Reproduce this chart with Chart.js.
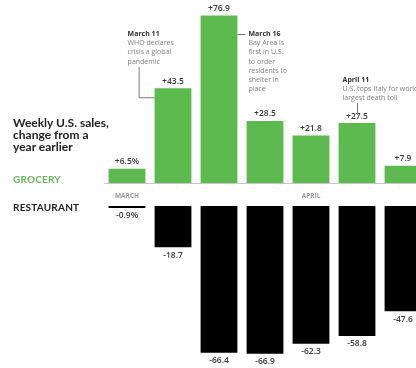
<!DOCTYPE html>
<html>
<head>
<meta charset="utf-8">
<script src="https://cdn.jsdelivr.net/npm/chart.js@4/dist/chart.umd.min.js"></script>
<style>
  html, body { margin: 0; padding: 0; background: #fff; overflow: hidden; }
  #wrap { position: relative; width: 416px; height: 368px; overflow: hidden; }
  canvas { position: absolute; left: 0; }
  #top { top: 0; }
  #bottom { top: 204px; }
  .txt { position: absolute; left: 13px; font-family: Lato, "Open Sans", sans-serif; font-weight: 700; }
  #title { top: 117px; font-size: 12px; line-height: 12px; color: #222; }
  #groc { top: 173px; font-size: 10px; color: #67b65a; letter-spacing: 0.2px; }
  #rest { top: 201px; font-size: 10px; color: #222; letter-spacing: 0.2px; }
</style>
</head>
<body>
<div id="wrap">
  <canvas id="top" width="430" height="202"></canvas>
  <canvas id="bottom" width="430" height="164"></canvas>
  <div class="txt" id="title">Weekly U.S. sales,<br>change from a<br>year earlier</div>
  <div class="txt" id="groc">GROCERY</div>
  <div class="txt" id="rest">RESTAURANT</div>
</div>
<script>
// Weekly change from a year earlier, %
const weeks = ['Mar 7', 'Mar 14', 'Mar 21', 'Mar 28', 'Apr 4', 'Apr 11', 'Apr 18'];
const monthTicks = ['MARCH', '', '', '', 'APRIL', '', ''];
const grocery = [6.5, 43.5, 76.9, 28.5, 21.8, 27.5, 7.9];
const restaurant = [-0.9, -18.7, -66.4, -66.9, -62.3, -58.8, -47.6];

const notes = [
    { bar: 1, title: 'March 11', lines: ['WHO declares', 'crisis a global', 'pandemic'] },
    { bar: 2, title: 'March 16', lines: ['Bay Area is', 'first in U.S.', 'to order', 'residents to', 'shelter in', 'place'] },
    { bar: 5, title: 'April 11', lines: ["U.S. tops Italy for world's", 'largest death toll'] }
];

const FONT = '"Open Sans", sans-serif';

function fmt(v, i) {
    const s = (v > 0 ? '+' : '') + v.toFixed(1);
    return i === 0 ? s + '%' : s;
}

// value labels above / below each bar
const valueLabels = {
    id: 'valueLabels',
    afterDatasetsDraw(chart) {
        const ctx = chart.ctx;
        const meta = chart.getDatasetMeta(0);
        const data = chart.data.datasets[0].data;
        ctx.save();
        ctx.font = '600 8.5px ' + FONT;
        ctx.fillStyle = '#3a3a3a';
        ctx.textAlign = 'center';
        ctx.textBaseline = 'middle';
        meta.data.forEach((bar, i) => {
            const v = data[i];
            const y = v >= 0 ? bar.y - 7 : bar.y + 8;
            ctx.fillText(fmt(v, i), bar.x, y);
        });
        ctx.restore();
    }
};

// event notes with leader lines
const eventNotes = {
    id: 'eventNotes',
    afterDatasetsDraw(chart) {
        const ctx = chart.ctx;
        const meta = chart.getDatasetMeta(0);
        ctx.save();
        ctx.textBaseline = 'middle';
        ctx.strokeStyle = '#777';
        ctx.lineWidth = 1;

        const drawText = (n, x, y0) => {
            ctx.font = '700 7px ' + FONT;
            ctx.fillStyle = '#333';
            ctx.fillText(n.title, x, y0);
            ctx.font = '400 7px ' + FONT;
            ctx.fillStyle = '#808080';
            n.lines.forEach((l, k) => ctx.fillText(l, x, y0 + 9.2 * (k + 1)));
        };

        // March 11: text to the left, elbow line to bar's left edge
        let b = meta.data[notes[0].bar];
        let left = b.x - b.width / 2;
        drawText(notes[0], left - 27, 34);
        ctx.beginPath();
        ctx.moveTo(left - 15.5, 67);
        ctx.lineTo(left - 15.5, b.y + 9.5);
        ctx.lineTo(left, b.y + 9.5);
        ctx.stroke();

        // March 16: text to the right of the tallest bar
        b = meta.data[notes[1].bar];
        let right = b.x + b.width / 2;
        drawText(notes[1], right + 11, 34);
        ctx.beginPath();
        ctx.moveTo(right, 34.5);
        ctx.lineTo(right + 8, 34.5);
        ctx.stroke();

        // April 11: text above the bar, short vertical line
        b = meta.data[notes[2].bar];
        left = b.x - b.width / 2;
        drawText(notes[2], left + 4, 80);
        ctx.beginPath();
        ctx.moveTo(b.x + 0.5, 103);
        ctx.lineTo(b.x + 0.5, 115);
        ctx.stroke();
        ctx.restore();
    }
};

new Chart(document.getElementById('top'), {
    type: 'bar',
    data: {
        labels: weeks,
        datasets: [{
            data: grocery,
            backgroundColor: '#5cba4e',
            borderWidth: 0,
            barPercentage: 0.8,
            categoryPercentage: 1
        }]
    },
    options: {
        responsive: false,
        animation: false,
        layout: { padding: { left: 104, right: 4, top: 0, bottom: 0 } },
        plugins: { legend: { display: false }, tooltip: { enabled: false } },
        scales: {
            x: {
                grid: { display: false, drawTicks: false },
                border: { display: true, color: '#c8c8c8', width: 1 },
                ticks: {
                    autoSkip: false,
                    maxRotation: 0,
                    padding: 9,
                    color: '#9a9a9a',
                    font: { family: FONT, size: 6.5, weight: '700' },
                    callback: (v, i) => monthTicks[i]
                },
                afterFit: s => { s.height = 19; }
            },
            y: { display: false, min: 0, max: 84 }
        }
    },
    plugins: [valueLabels, eventNotes]
});

new Chart(document.getElementById('bottom'), {
    type: 'bar',
    data: {
        labels: weeks,
        datasets: [{
            data: restaurant,
            backgroundColor: '#000',
            borderWidth: 0,
            barPercentage: 0.8,
            categoryPercentage: 1
        }]
    },
    options: {
        responsive: false,
        animation: false,
        layout: { padding: { left: 104, right: 4, top: 2, bottom: 0 } },
        plugins: { legend: { display: false }, tooltip: { enabled: false } },
        scales: {
            x: { display: false },
            y: { display: false, min: -73.3, max: 0 }
        }
    },
    plugins: [valueLabels]
});
</script>
</body>
</html>
